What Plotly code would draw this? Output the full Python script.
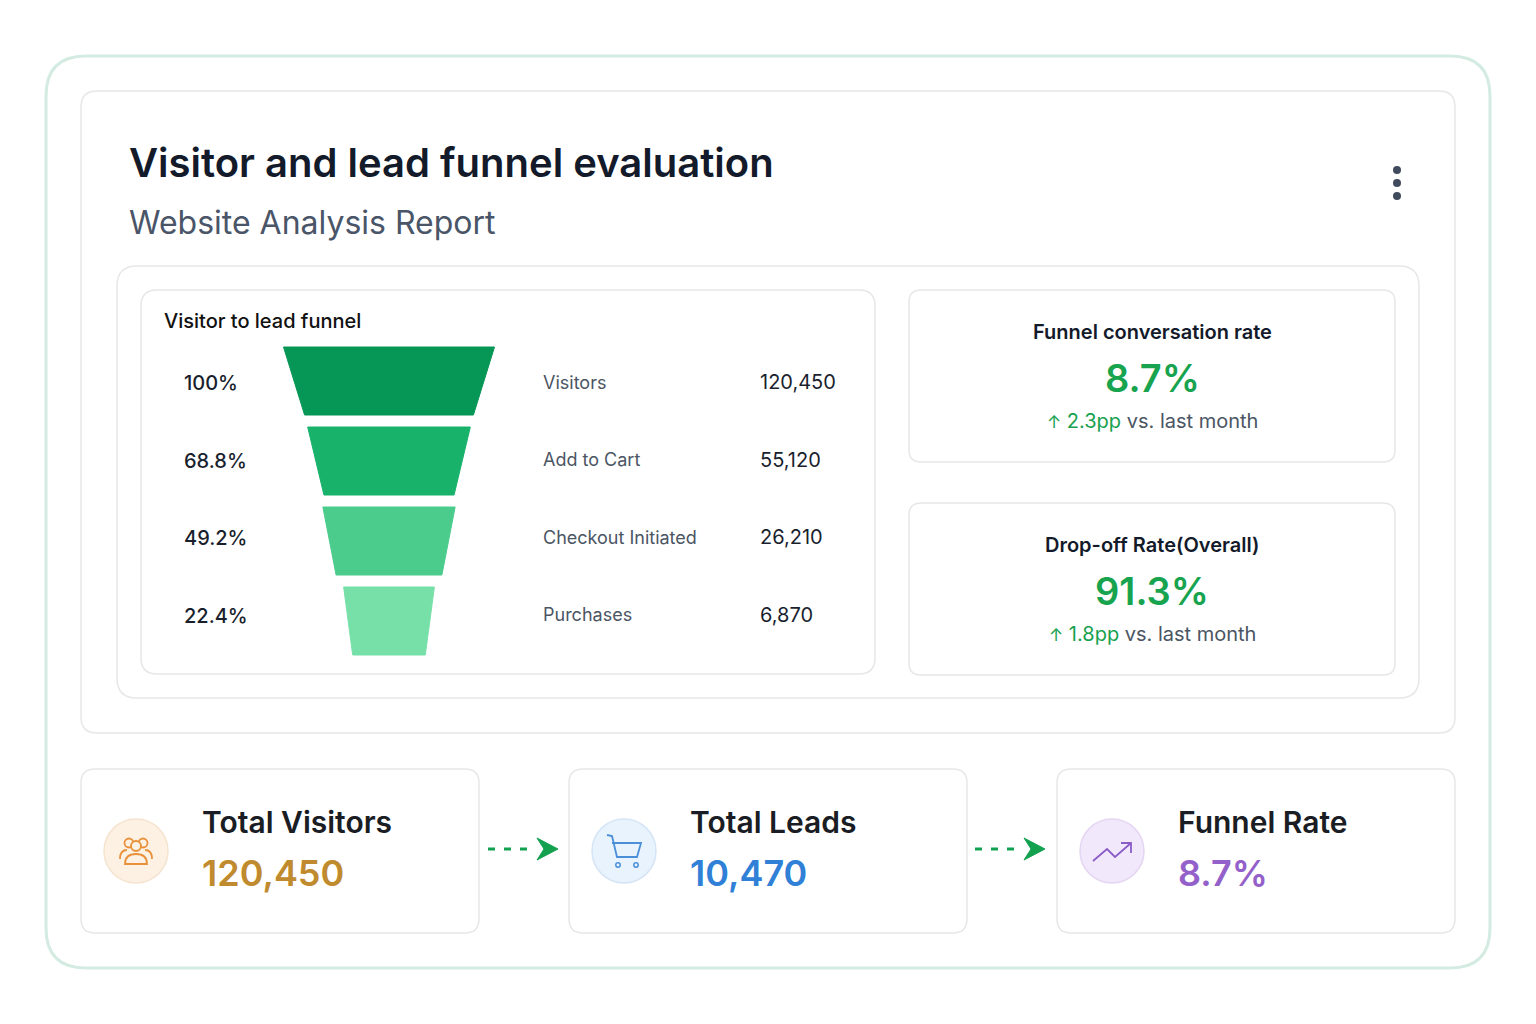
import plotly.graph_objects as go

# funnel data
stages = ["Visitors", "Add to Cart", "Checkout Initiated", "Purchases"]
stage_values = [120450, 55120, 26210, 6870]
stage_pct = [100, 68.8, 49.2, 22.4]
stage_colors = ["#069655", "#18b26b", "#4bcc8d", "#77e0a9"]

# kpi cards
conv_rate = 8.7
conv_delta = 2.3
drop_rate = 91.3
drop_delta = 1.8

# bottom totals
total_labels = ["Total Visitors", "Total Leads", "Funnel Rate"]
total_values = ["120,450", "10,470", "8.7%"]
total_colors = ["#c08a2e", "#2f80d6", "#9361c9"]
icon_fill = ["#fdf1e3", "#e8f3fd", "#f2e8fc"]
icon_line = ["#f5e4d0", "#d5e5f5", "#e5d6f3"]
icon_color = ["#e8913a", "#4a8fd8", "#8b5cc8"]

FONT = "Inter"
DARK = "#131a2a"
GRAY = "#4b5563"
GREEN = "#17a14f"
BORDER = "#e6e7e9"
OFF = 8  # page body margin


def rrect(x0, y0, x1, y1, r):
    return (f"M{x0+r},{y0} L{x1-r},{y0} Q{x1},{y0} {x1},{y0+r} L{x1},{y1-r} "
            f"Q{x1},{y1} {x1-r},{y1} L{x0+r},{y1} Q{x0},{y1} {x0},{y1-r} "
            f"L{x0},{y0+r} Q{x0},{y0} {x0+r},{y0} Z")


fig = go.Figure()
shapes = []
ann = []


def box(x0, y0, x1, y1, r, color=BORDER, w=1.5, fill="white"):
    shapes.append(dict(type="path", path=rrect(x0, y0, x1, y1, r), xref="x", yref="y",
                       line=dict(color=color, width=w), fillcolor=fill, layer="below"))


def text(x, y, s, size, color=DARK, weight=400, anchor="left"):
    ann.append(dict(x=x, y=y, xref="x", yref="y", text=s, showarrow=False,
                    xanchor=anchor, yanchor="middle",
                    font=dict(family=FONT, size=size, color=color, weight=weight)))


# frames
box(46, 56, 1490, 968, 40, color="#d3ebe1", w=3)
box(81, 91, 1455, 733, 16)
box(117, 266, 1419, 698, 20)
box(141, 290, 875, 674, 16)
box(909, 290, 1395, 462, 12)
box(909, 503, 1395, 675, 12)

# header
text(127, 162, "Visitor and lead funnel evaluation", 40, DARK, 600)
text(127, 222, "Website Analysis Report", 32, "#4a5568", 400)
for dy in (170, 183, 196):
    shapes.append(dict(type="circle", xref="x", yref="y", x0=1393, x1=1401, y0=dy - 4, y1=dy + 4,
                       fillcolor="#414b5e", line=dict(width=0)))

# funnel
text(162, 321, "Visitor to lead funnel", 20, "#111111", 500)
cx = 389
for i, (pct, col) in enumerate(zip(stage_pct, stage_colors)):
    top_w = 56 + 1.55 * pct
    bot_w = 0.8 * top_w
    y0 = 347 + 80 * i
    y1 = y0 + 68
    fig.add_trace(go.Scatter(
        x=[cx - top_w / 2, cx + top_w / 2, cx + bot_w / 2, cx - bot_w / 2, cx - top_w / 2],
        y=[y0, y0, y1, y1, y0], mode="lines", fill="toself", fillcolor=col,
        line=dict(color=col, width=1), hoverinfo="skip", showlegend=False))

for i, (name, val, pct) in enumerate(zip(stages, stage_values, stage_pct)):
    yy = 382 + 77.5 * i
    text(182, yy + 1, f"{pct:g}%", 20, "#1a1f2e", 500)
    text(541, yy, name, 18, GRAY, 400)
    text(758, yy, f"{val:,}", 20, "#1a1f2e", 400)


def kpi(y, title, value, delta):
    text(1152, y, title, 20, DARK, 600, "center")
    text(1152, y + 46, f"{value}%", 38, "#18a34f", 600, "center")
    text(1152, y + 89, f"<span style='color:{GREEN}'><span style='font-size:17px'>↑</span> {delta}pp</span> vs. last month",
         20, GRAY, 400, "center")


kpi(332, "Funnel conversation rate", conv_rate, conv_delta)
kpi(545, "Drop-off Rate(Overall)", drop_rate, drop_delta)

# bottom cards
card_x = [81, 569, 1057]
for i, x0 in enumerate(card_x):
    box(x0, 769, x0 + 398, 933, 14)
    icx, icy = x0 + 55, 851
    shapes.append(dict(type="circle", xref="x", yref="y", x0=icx - 32, x1=icx + 32, y0=icy - 32, y1=icy + 32,
                       fillcolor=icon_fill[i], line=dict(color=icon_line[i], width=1.5)))
    text(x0 + 119, 822, total_labels[i], 30, "#1a1d23", 600)
    text(x0 + 119, 873, total_values[i], 36, total_colors[i], 600)

# people icon
ic = icon_color[0]
for hx in (129, 143):
    shapes.append(dict(type="circle", xref="x", yref="y", x0=hx - 4.5, x1=hx + 4.5, y0=838.5, y1=847.5,
                       line=dict(color=ic, width=1.8), fillcolor=icon_fill[0]))
shapes.append(dict(type="path", xref="x", yref="y",
                   path="M120,859 Q120,850 127,850 M152,859 Q152,850 145,850",
                   line=dict(color=ic, width=1.8)))
shapes.append(dict(type="circle", xref="x", yref="y", x0=131, x1=141, y0=841, y1=851,
                   line=dict(color=ic, width=1.8), fillcolor=icon_fill[0]))
shapes.append(dict(type="path", xref="x", yref="y",
                   path="M125,864 Q125,854 136,854 Q147,854 147,864 Z",
                   line=dict(color=ic, width=1.8), fillcolor=icon_fill[0]))

# cart icon
ic = icon_color[1]
shapes.append(dict(type="path", xref="x", yref="y",
                   path="M607,835 L612,836 L617,857 L637,857 L641,843 L612,843",
                   line=dict(color=ic, width=1.8)))
for wx in (618, 636):
    shapes.append(dict(type="circle", xref="x", yref="y", x0=wx - 2.2, x1=wx + 2.2, y0=862.8, y1=867.2,
                       line=dict(color=ic, width=1.5)))

# trend icon
ic = icon_color[2]
shapes.append(dict(type="path", xref="x", yref="y",
                   path="M1093,861 L1107,849 L1115,857 L1131,843 M1121,843 L1131,843 L1131,853",
                   line=dict(color=ic, width=1.8)))

# arrows between cards
for ax in (488, 975):
    shapes.append(dict(type="line", xref="x", yref="y", x0=ax, x1=ax + 44, y0=849, y1=849,
                       line=dict(color="#13a150", width=3, dash="7px,9px")))
    tip = ax + 70
    shapes.append(dict(type="path", xref="x", yref="y",
                       path=f"M{tip},849 L{tip-21},838 L{tip-14},849 L{tip-21},860 Z",
                       fillcolor="#13a150", line=dict(color="#13a150", width=1)))

fig.update_layout(
    width=1536, height=1024,
    margin=dict(l=0, r=0, t=0, b=0),
    paper_bgcolor="white", plot_bgcolor="white",
    xaxis=dict(range=[OFF, 1536 + OFF], visible=False, fixedrange=True),
    yaxis=dict(range=[1024 + OFF, OFF], visible=False, fixedrange=True),
    shapes=shapes, annotations=ann, showlegend=False,
)

fig.write_html("out.html")
